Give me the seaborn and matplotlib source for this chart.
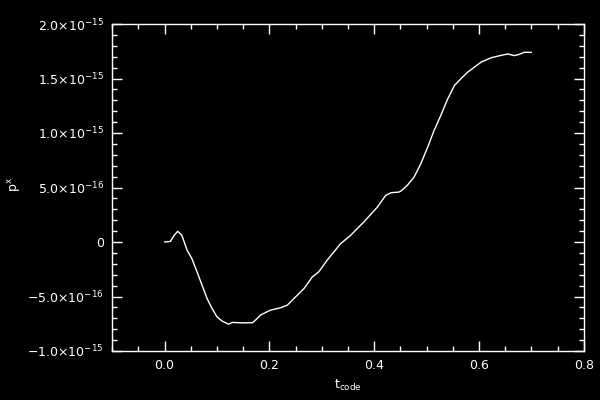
import numpy as np
import pandas as pd
import matplotlib
matplotlib.use("Agg")
import matplotlib.pyplot as plt
import matplotlib.ticker as mticker
import seaborn as sns

# curve (p^x in units of 1e-16)
t_code = [0.000, 0.011, 0.018, 0.025, 0.033, 0.043, 0.052, 0.062, 0.0715, 0.081,
          0.0906, 0.100, 0.110, 0.122, 0.129, 0.150, 0.168, 0.175, 0.183, 0.202,
          0.221, 0.234, 0.247, 0.266, 0.282, 0.294, 0.310, 0.336, 0.355, 0.380,
          0.406, 0.422, 0.432, 0.447, 0.451, 0.463, 0.476, 0.489, 0.502, 0.514,
          0.527, 0.540, 0.553, 0.565, 0.578, 0.604, 0.623, 0.640, 0.655, 0.667,
          0.676, 0.686, 0.700]
p_x = [0.00, 0.05, 0.60, 0.98, 0.61, -0.76, -1.52, -2.75, -3.97, -5.18,
       -6.10, -6.87, -7.26, -7.54, -7.38, -7.42, -7.40, -7.10, -6.70, -6.25,
       -6.04, -5.80, -5.18, -4.27, -3.20, -2.75, -1.68, -0.15, 0.61, 1.83,
       3.20, 4.28, 4.52, 4.58, 4.67, 5.19, 5.95, 7.18, 8.70, 10.20,
       11.60, 13.10, 14.35, 14.96, 15.57, 16.50, 16.90, 17.10, 17.25, 17.10,
       17.20, 17.40, 17.40]

y_ticks = [-1.0e-15, -5.0e-16, 0.0, 5.0e-16, 1.0e-15, 1.5e-15, 2.0e-15]
y_tick_labels = [r"$-$1.0$\times$10$^{-15}$", r"$-$5.0$\times$10$^{-16}$", "0",
                 r"5.0$\times$10$^{-16}$", r"1.0$\times$10$^{-15}$",
                 r"1.5$\times$10$^{-15}$", r"2.0$\times$10$^{-15}$"]
x_ticks = [0.0, 0.2, 0.4, 0.6, 0.8]
x_tick_labels = ["0.0", "0.2", "0.4", "0.6", "0.8"]

df = pd.DataFrame({"t": t_code, "p": np.array(p_x) * 1e-16})

sns.set_theme(style="ticks", rc={
    "figure.facecolor": "black", "axes.facecolor": "black",
    "axes.edgecolor": "white", "axes.labelcolor": "white",
    "xtick.color": "white", "ytick.color": "white", "text.color": "white",
    "axes.linewidth": 1.0,
})
plt.rcParams["font.family"] = ["DejaVu Sans"]

fig = plt.figure(figsize=(6, 4), dpi=100)
ax = fig.add_axes([0.187, 0.1225, 0.786, 0.8175])

sns.lineplot(data=df, x="t", y="p", ax=ax, color="white", linewidth=1.0,
             estimator=None, sort=False)

ax.set_xlim(-0.1, 0.8)
ax.set_ylim(-1.0e-15, 2.0e-15)
ax.xaxis.set_major_locator(mticker.FixedLocator(x_ticks))
ax.xaxis.set_major_formatter(mticker.FixedFormatter(x_tick_labels))
ax.xaxis.set_minor_locator(mticker.MultipleLocator(0.05))
ax.yaxis.set_major_locator(mticker.FixedLocator(y_ticks))
ax.yaxis.set_major_formatter(mticker.FixedFormatter(y_tick_labels))
ax.yaxis.set_minor_locator(mticker.MultipleLocator(1e-16))

ax.tick_params(which="both", direction="in", top=True, right=True,
               labelsize=9, pad=6)
ax.tick_params(which="major", length=7, width=1)
ax.tick_params(which="minor", length=3.5, width=1)

ax.set_xlabel(r"t$_{\mathrm{code}}$", fontsize=9, labelpad=4)
ax.set_ylabel(r"p$^{\mathrm{x}}$", fontsize=9)
ax.yaxis.set_label_coords(-0.19, 0.51)
for s in ax.spines.values():
    s.set_visible(True)
    s.set_color("white")

fig.savefig("out.png", dpi=100, facecolor="black")
